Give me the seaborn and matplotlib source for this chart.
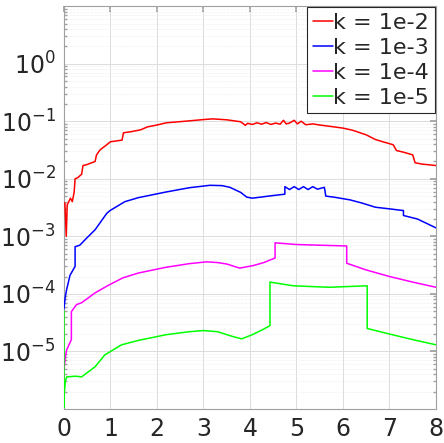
import numpy as np
import pandas as pd
import seaborn as sns
import matplotlib
matplotlib.use("Agg")
import matplotlib.pyplot as plt
from matplotlib.ticker import LogLocator, NullFormatter

labels = ["k = 1e-2", "k = 1e-3", "k = 1e-4", "k = 1e-5"]
colors = ["#ff0000", "#0000ff", "#ff00ff", "#00ff00"]

red_x = [0.0, 0.02, 0.05, 0.07, 0.14, 0.18, 0.22, 0.24, 0.30, 0.38, 0.41, 0.48, 0.67, 0.70, 0.78, 0.92, 1.00, 1.25, 1.28,
         1.45, 1.65, 1.80, 2.00, 2.20, 2.60, 3.00, 3.20, 3.50, 3.80, 3.90, 3.95, 4.05, 4.15, 4.25, 4.35, 4.45,
         4.55, 4.65, 4.72, 4.78, 4.85, 4.95, 5.02, 5.10, 5.20, 5.35, 5.50, 5.80, 6.00, 6.20, 6.37, 6.50, 6.70,
         6.90, 7.08, 7.15, 7.30, 7.50, 7.55, 7.70, 8.00]
red_y = [3.8e-3, 3.8e-3, 1.0e-3, 3.5e-3, 4.6e-3, 4.0e-3, 5.9e-3, 1.0e-2, 1.05e-2, 1.2e-2, 1.7e-2, 1.75e-2, 2.0e-2, 2.6e-2,
         3.2e-2, 3.9e-2, 4.4e-2, 4.7e-2, 6.3e-2, 6.6e-2, 7.1e-2, 8.0e-2, 8.6e-2, 9.4e-2, 1.0e-1, 1.07e-1, 1.1e-1,
         1.06e-1, 9.8e-2, 8.5e-2, 9.2e-2, 8.8e-2, 9.4e-2, 8.9e-2, 9.5e-2, 8.8e-2, 9.3e-2, 8.9e-2, 1.04e-1, 9.0e-2,
         9.3e-2, 1.04e-1, 9.0e-2, 1.0e-1, 8.7e-2, 9.0e-2, 8.6e-2, 8.0e-2, 7.6e-2, 7.0e-2, 6.3e-2, 5.8e-2, 4.8e-2,
         4.3e-2, 3.9e-2, 3.1e-2, 2.9e-2, 2.6e-2, 1.9e-2, 1.8e-2, 1.7e-2]

blue_x = [0.0, 0.03, 0.06, 0.13, 0.24, 0.24, 0.34, 0.50, 0.67, 0.92, 0.99, 1.31, 1.60, 2.20, 2.70, 3.14, 3.40, 3.57,
          3.80, 3.93, 4.05, 4.40, 4.75, 4.75, 4.85, 4.95, 5.05, 5.15, 5.25, 5.35, 5.45, 5.60, 5.63, 5.80, 6.15,
          6.40, 6.70, 7.00, 7.30, 7.30, 7.60, 8.00]
blue_y = [5.5e-5, 9.0e-5, 1.2e-4, 2.1e-4, 3.0e-4, 6.6e-4, 7.0e-4, 9.5e-4, 1.3e-3, 2.5e-3, 2.8e-3, 4.0e-3, 4.7e-3, 5.9e-3,
          7.0e-3, 7.7e-3, 7.6e-3, 7.1e-3, 5.8e-3, 4.8e-3, 4.6e-3, 5.0e-3, 5.4e-3, 7.3e-3, 6.5e-3, 7.3e-3, 6.5e-3,
          7.3e-3, 6.5e-3, 7.3e-3, 6.6e-3, 7.1e-3, 5.0e-3, 4.8e-3, 4.3e-3, 3.8e-3, 3.2e-3, 3.0e-3, 2.8e-3, 2.3e-3,
          2.0e-3, 1.4e-3]

mag_x = [0.0, 0.03, 0.06, 0.16, 0.16, 0.27, 0.38, 0.67, 0.95, 1.27, 1.60, 2.20, 2.70, 3.07, 3.30, 3.50, 3.78, 4.07,
         4.30, 4.54, 4.54, 5.00, 5.50, 6.08, 6.08, 6.50, 7.00, 7.50, 8.00]
mag_y = [4.8e-6, 8.0e-6, 1.07e-5, 1.6e-5, 4.9e-5, 6.5e-5, 7.0e-5, 1.04e-4, 1.4e-4, 1.9e-4, 2.3e-4, 2.9e-4, 3.35e-4, 3.6e-4,
         3.5e-4, 3.3e-4, 2.8e-4, 3.1e-4, 3.5e-4, 4.2e-4, 7.7e-4, 7.2e-4, 7.0e-4, 6.8e-4, 3.4e-4, 2.6e-4, 2.0e-4,
         1.6e-4, 1.3e-4]

grn_x = [0.0, 0.0, 0.01, 0.03, 0.06, 0.24, 0.38, 0.67, 0.88, 1.24, 1.60, 2.20, 2.70, 3.00, 3.30, 3.64, 3.82, 4.05,
         4.28, 4.43, 4.43, 4.93, 5.70, 6.52, 6.52, 7.00, 7.50, 8.00]
grn_y = [5.0e-5, 1.05e-6, 2.0e-6, 3.0e-6, 3.6e-6, 3.7e-6, 3.6e-6, 5.4e-6, 8.7e-6, 1.3e-5, 1.55e-5, 1.95e-5, 2.2e-5,
         2.3e-5, 2.2e-5, 1.8e-5, 1.65e-5, 1.95e-5, 2.4e-5, 2.8e-5, 1.6e-4, 1.38e-4, 1.3e-4, 1.38e-4, 2.5e-5, 2.0e-5,
         1.6e-5, 1.3e-5]

series_x = [red_x, blue_x, mag_x, grn_x]
series_y = [red_y, blue_y, mag_y, grn_y]

sns.set_theme(style="white")
plt.rcParams['font.family'] = ['DejaVu Sans']

fig = plt.figure(figsize=(4.44, 4.43), dpi=100)
ax = fig.add_axes([0.144, 0.077, 0.838, 0.909])

for xs, ys, lab, col in zip(series_x, series_y, labels, colors):
    df = pd.DataFrame({"x": xs, "y": ys})
    sns.lineplot(data=df, x="x", y="y", estimator=None, sort=False,
                 color=col, linewidth=1.1, label=lab, ax=ax, zorder=3)

ax.set_yscale("log")
ax.set_xlim(0, 8)
ax.set_ylim(1e-6, 1e1)
ax.set_xticks(range(0, 9))
ax.set_yticks([1e-5, 1e-4, 1e-3, 1e-2, 1e-1, 1e0])
ax.yaxis.set_minor_locator(LogLocator(base=10, subs=np.arange(2, 10), numticks=20))
ax.yaxis.set_minor_formatter(NullFormatter())
ax.set_xlabel("")
ax.set_ylabel("")

ax.grid(True, which="major", color="#dcdcdc", linewidth=0.7)
ax.grid(True, which="minor", axis="y", color="#ececec", linewidth=0.5, linestyle=(0, (1, 1)))
ax.set_axisbelow(True)

for sp in ax.spines.values():
    sp.set_color("#a0a0a0")
    sp.set_linewidth(0.8)

ax.tick_params(axis="both", which="major", direction="in", length=4, color="#a0a0a0",
               labelsize=17, labelcolor="#262626", top=True, right=True, pad=6)
ax.tick_params(axis="y", which="minor", direction="in", length=2, color="#a0a0a0", right=True, left=True)

leg = ax.legend(loc="upper right", fontsize=16, frameon=True, fancybox=False,
                handlelength=0.9, handletextpad=0.02, borderpad=0.25, labelspacing=0.22,
                borderaxespad=0.05, edgecolor="#262626", framealpha=1)
leg.set_zorder(5)
leg.get_frame().set_linewidth(0.8)
for t in leg.get_texts():
    t.set_color("#262626")

fig.savefig("out.png", dpi=100, facecolor="white")
